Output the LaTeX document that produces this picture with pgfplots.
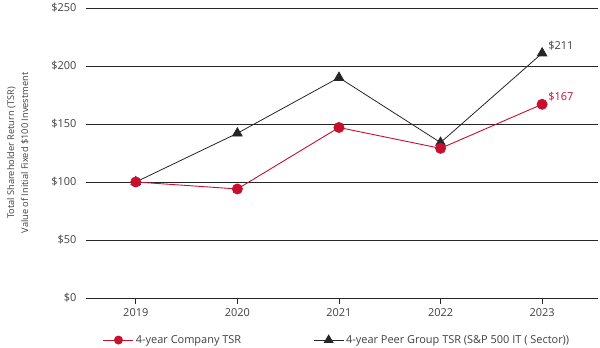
\documentclass[border=0pt]{standalone}
\usepackage{pgfplots}
\pgfplotsset{compat=1.18}
\usepackage{fontspec}
\setmainfont{Open Sans}
\definecolor{cred}{HTML}{C8102E}
\definecolor{cdark}{HTML}{262626}
\definecolor{ctext}{HTML}{404040}
\begin{document}
\begin{tikzpicture}
\useasboundingbox (-86bp,-50bp) rectangle (514bp,298bp);
\begin{axis}[
  at={(0,0)}, anchor=south west,
  scale only axis, width=512bp, height=290bp,
  xmin=-0.49, xmax=4.55, ymin=0, ymax=250,
  axis x line*=bottom, axis y line*=left,
  x axis line style={draw=none}, y axis line style={draw=none},
  ymajorgrids, grid style={cdark, line width=0.9bp},
  ytick={0,50,100,150,200,250},
  yticklabel={\$\pgfmathprintnumber{\tick}},
  ytick style={draw=none},
  xtick={0,1,2,3,4},
  xticklabels={2019,2020,2021,2022,2023},
  tick align=outside, major tick length=6bp,
  xtick style={cdark, line width=0.8bp},
  /pgf/number format/assume math mode=true,
  tick label style={font=\fontsize{11}{13}\selectfont, text=ctext},
  xticklabel style={yshift=-1bp},
  ylabel={Total Shareholder Return (TSR)\\Value of Initial Fixed \$100 Investment},
  every axis y label/.style={at={(axis description cs:-0.133,0.5)}, rotate=90, anchor=center,
    align=center, font=\fontsize{9.3}{14}\selectfont, text=ctext},
  legend columns=2,
  legend style={draw=none, fill=none, font=\fontsize{11}{13}\selectfont, text=ctext,
    at={(rel axis cs:0.027,-0.145)}, anchor=west,
    /tikz/every even column/.append style={column sep=70bp}},
  legend image code/.code={\draw[mark repeat=2,mark phase=2] plot coordinates {(0bp,0bp) (15bp,0bp) (30bp,0bp)};},
]
\addplot[black!85, line width=0.8bp, mark=triangle*, mark size=5.5bp, mark options={fill=cdark, draw=cdark}, forget plot]
  coordinates {(0,100) (1,142) (2,190) (3,134) (4,211)};
\addplot[cred, line width=0.9bp, mark=*, mark size=5bp, mark options={fill=cred, draw=cred}, forget plot]
  coordinates {(0,100) (1,94) (2,147) (3,129) (4,167)};
\addlegendimage{cred, line width=0.9bp, mark=*, mark size=4bp, mark options={fill=cred}}
\addlegendentry{4-year Company TSR}
\addlegendimage{black!85, line width=0.8bp, mark=triangle*, mark size=5bp, mark options={fill=cdark}}
\addlegendentry{4-year Peer Group TSR (S\&P 500 IT ( Sector))}
\node[anchor=south west, font=\fontsize{11}{13}\selectfont, text=ctext, inner sep=1bp] at (axis cs:4.05,213) {\$211};
\node[anchor=south west, font=\fontsize{11}{13}\selectfont, text=cred, inner sep=1bp] at (axis cs:4.05,169) {\$167};
\end{axis}
\end{tikzpicture}
\end{document}
